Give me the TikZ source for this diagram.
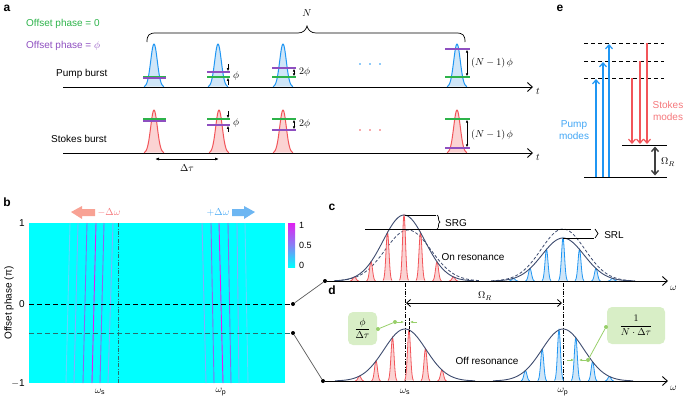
\documentclass[tikz,border=0pt]{standalone}
\usepackage{fontspec}
\setmainfont{Liberation Sans}
\usepackage{amsmath}
\usetikzlibrary{arrows.meta,decorations.pathreplacing}
\definecolor{pblue}{HTML}{1F96F3}
\definecolor{pbluefill}{HTML}{CFE6F8}
\definecolor{sred}{HTML}{F2555A}
\definecolor{sredfill}{HTML}{FBD3D3}
\definecolor{ogreen}{HTML}{2DB34A}
\definecolor{opurple}{HTML}{8E4FC0}
\definecolor{envc}{HTML}{3D4B6E}
\definecolor{hcyan}{HTML}{00FFFF}
\definecolor{boxgreen}{HTML}{D8EEC6}
\definecolor{lgreen}{HTML}{98CF6A}
\definecolor{salmon}{HTML}{F8A294}
\definecolor{lblue}{HTML}{6DB6F2}
\definecolor{hmag}{HTML}{E020F0}
\definecolor{hvio}{HTML}{8A6AF0}
\definecolor{hlav}{HTML}{7FB0FF}
\definecolor{hfaint}{HTML}{60D8FF}
\definecolor{teal}{HTML}{2B6E6E}
\newcommand\apulse[4]{\draw[#3, fill=#4, line width=1pt] plot[domain=-10:10, samples=41, smooth] ({#1+\x},{#2-43*exp(-(\x*\x)/(2*3.3*3.3))});}
\newcommand\atooth[5]{\draw[#4, fill=#5, line width=0.8pt] plot[domain=-4.5:4.5, samples=25, smooth] ({#1+\x},{#2-#3*exp(-(\x*\x)/(2*1.5*1.5))});}
\newcommand\aenv[6]{\draw[#5] plot[domain=-#6:#6, samples=71, smooth] ({#1+\x},{#2-#3*exp(-(\x*\x)/(2*#4*#4))});}
\begin{document}
\begin{tikzpicture}[x=1pt,y=-1pt,
  txt/.style={font=\fontsize{10}{11}\selectfont, inner sep=0pt},
  stxt/.style={font=\fontsize{9}{10}\selectfont, inner sep=0pt},
  plabel/.style={font=\fontsize{12}{13}\selectfont\bfseries, inner sep=0pt},
  axisarrow/.style={line width=0.9pt, -{Straight Barb[length=5pt,width=9pt]}},
  phline/.style={line width=1.3pt},
  smallarr/.style={line width=0.6pt, -{Latex[length=3pt,width=2.6pt]}},
  dblarr/.style={line width=0.6pt, {Latex[length=3pt,width=2.6pt]}-{Latex[length=3pt,width=2.6pt]}},
  envsolid/.style={envc, line width=0.9pt},
  envdash/.style={envc, line width=0.8pt, dash pattern=on 3pt off 2pt},
  dashdot/.style={line width=0.6pt, dash pattern=on 4pt off 1.5pt on 0.8pt off 1.5pt},
  gbox/.style={fill=boxgreen, rounded corners=5pt, inner sep=0pt},
  gline/.style={lgreen, line width=0.8pt},
  gdot/.style={circle, fill=lgreen, inner sep=0pt, minimum size=4pt},
  bdot/.style={circle, fill=black, inner sep=0pt, minimum size=4pt},
  garr/.style={lgreen, line width=0.7pt, -{Latex[length=3pt,width=2.6pt]}},
  earr/.style={line width=1.2pt, -{Straight Barb[length=4pt,width=7pt]}}
]
\useasboundingbox (0,0) rectangle (685,400);
% ---------------- Panel a ----------------
\node[plabel] (la) at (7,8) {a};
\node[txt, text=ogreen, anchor=west] (off0) at (26,24) {Offset phase = 0};
\node[txt, text=opurple, anchor=west] (offphi) at (26,46) {Offset phase = $\phi$};
\node[txt, anchor=west] (pumpb) at (56,74) {Pump burst};
\node[txt, anchor=west] (stokesb) at (51,139) {Stokes burst};
\coordinate (pa0) at (63,87); \coordinate (pa1) at (533,87);
\coordinate (sa0) at (63,153); \coordinate (sa1) at (533,153);
\draw[axisarrow] (pa0) -- (pa1);
\draw[axisarrow] (sa0) -- (sa1);
\node[txt, anchor=west] (tp) at (536,91) {$t$};
\node[txt, anchor=west] (ts) at (536,157) {$t$};
% brace N
\draw[line width=0.7pt] (147,42) .. controls (147,35) and (149,33) .. (156,33) -- (298,33) .. controls (303,33) and (306,30) .. (307,26) .. controls (308,30) and (311,33) .. (316,33) -- (456,33) .. controls (463,33) and (465,35) .. (465,42);
\node[txt] (nlab) at (307,13) {$N$};
% pulses
\foreach \cx in {154,218,283,457} {\apulse{\cx}{87}{pblue}{pbluefill}}
\foreach \cx in {154,219,283,457} {\apulse{\cx}{153}{sred}{sredfill}}
% pump markers
\draw[phline, opurple] (143,78) -- (166,78);
\draw[phline, ogreen] (143,76.5) -- (166,76.5);
\draw[phline, opurple] (207,72) -- (230,72);
\draw[phline, ogreen] (207,77) -- (230,77);
\draw[phline, opurple] (272,68) -- (296,68);
\draw[phline, ogreen] (272,77) -- (296,77);
\draw[phline, opurple] (445,49) -- (470,49);
\draw[phline, ogreen] (445,77) -- (470,77);
% stokes markers
\draw[phline, opurple] (143,121) -- (166,121);
\draw[phline, ogreen] (143,119) -- (166,119);
\draw[phline, ogreen] (207,119) -- (230,119);
\draw[phline, opurple] (207,125) -- (230,125);
\draw[phline, ogreen] (272,119) -- (296,119);
\draw[phline, opurple] (272,130) -- (296,130);
\draw[phline, ogreen] (445,119) -- (470,119);
\draw[phline, opurple] (445,148) -- (470,148);
% phase arrows
\coordinate (m1a) at (228,64); \coordinate (m1b) at (228,71.2);
\coordinate (m1c) at (228,85); \coordinate (m1d) at (228,77.8);
\draw[smallarr] (m1a) -- (m1b);
\draw[smallarr] (m1c) -- (m1d);
\node[txt, anchor=west] (phi1) at (233,76) {$\phi$};
\coordinate (m2a) at (228,111); \coordinate (m2b) at (228,118.2);
\coordinate (m2c) at (228,132); \coordinate (m2d) at (228,125.8);
\draw[smallarr] (m2a) -- (m2b);
\draw[smallarr] (m2c) -- (m2d);
\node[txt, anchor=west] (phi2) at (233,123) {$\phi$};
\coordinate (m3a) at (294,68.7); \coordinate (m3b) at (294,76.3);
\draw[dblarr] (m3a) -- (m3b);
\node[txt, anchor=west] (tphi1) at (299,72) {$2\phi$};
\coordinate (m4a) at (294,119.7); \coordinate (m4b) at (294,129.3);
\draw[dblarr] (m4a) -- (m4b);
\node[txt, anchor=west] (tphi2) at (299,124) {$2\phi$};
\coordinate (m5a) at (467,49.7); \coordinate (m5b) at (467,76.3);
\draw[dblarr] (m5a) -- (m5b);
\node[txt, anchor=west] (nphi1) at (471,63) {$(N-1)\,\phi$};
\coordinate (m6a) at (467,119.7); \coordinate (m6b) at (467,147.3);
\draw[dblarr] (m6a) -- (m6b);
\node[txt, anchor=west] (nphi2) at (471,135) {$(N-1)\,\phi$};
% dots
\foreach \dx in {360,370,380} {\fill[pblue] (\dx,64) circle (0.9);}
\foreach \dx in {360,370,380} {\fill[sred] (\dx,130) circle (0.9);}
% delta tau
\coordinate (dt0) at (155,159); \coordinate (dt1) at (219,159);
\draw[line width=0.7pt, {Latex[length=4pt,width=3pt]}-{Latex[length=4pt,width=3pt]}] (dt0) -- (dt1);
\node[txt] (dtl) at (187,168) {$\Delta\tau$};
% ---------------- Panel e ----------------
\node[plabel] (le) at (560,8) {e};
\foreach \ly in {43,61,78} {\draw[line width=0.8pt, dash pattern=on 4pt off 3pt] (584,\ly) -- (664,\ly);}
\coordinate (g0) at (584,177); \coordinate (g1) at (667,177);
\coordinate (v0) at (622,145); \coordinate (v1) at (667,145);
\draw[line width=0.9pt] (g0) -- (g1);
\draw[line width=0.9pt] (v0) -- (v1);
\draw[pblue, earr] (596,177) -- (596,79);
\draw[pblue, earr] (603,177) -- (603,62);
\draw[pblue, earr] (609,177) -- (609,44);
\draw[sred, earr] (632,78) -- (632,144);
\draw[sred, earr] (640,61) -- (640,144);
\draw[sred, earr] (647,43) -- (647,144);
\draw[line width=1.4pt, black!75, {Straight Barb[length=4pt,width=7pt]}-{Straight Barb[length=4pt,width=7pt]}] (655,146.5) -- (655,175.5);
\node[txt, anchor=west] (omr) at (661,162) {$\Omega_R$};
\node[txt, text=pblue!85, align=center] (pm) at (574,130) {Pump\\[1pt]modes};
\node[txt, text=sred!80, align=center] (sm) at (668,111) {Stokes\\[1pt]modes};
% ---------------- Panel b ----------------
\node[plabel] (lb) at (7,202) {b};
\fill[hcyan] (29,223) rectangle (285,383);
\foreach \xt/\xb/\cc in {70/66/hfaint, 78/74/hlav, 87/83/hvio, 96/92/hmag, 104/100/hvio, 113/108/hlav} {
  \draw[\cc, line width=0.9pt] (\xt,223) -- (\xb,383);}
\foreach \xt/\xb/\cc in {202/206/hlav, 211/214/hvio, 219/223/hmag, 228/231/hvio, 237/239/hlav, 245/248/hfaint} {
  \draw[\cc, line width=0.9pt] (\xt,223) -- (\xb,383);}
\draw[teal, dashdot, line width=0.8pt] (118,223) -- (118,383);
\coordinate (b0l) at (29,304);
\coordinate (b1l) at (29,333);
\node[bdot] (b0) at (293,304) {};
\node[bdot] (b1) at (293,333) {};
\draw[line width=0.7pt, dash pattern=on 5pt off 3pt] (b0l) -- (b0);
\draw[teal, line width=0.8pt, dash pattern=on 5pt off 3pt] (b1l) -- (b1);
\shade[top color=hmag, bottom color=hcyan, middle color=hvio!70!hlav] (288,223) rectangle (295,267);
\node[stxt, anchor=west] (cb1) at (299,225) {1};
\node[stxt, anchor=west] (cb2) at (299,245) {0.5};
\node[stxt, anchor=west] (cb3) at (299,265) {0};
\node[txt, anchor=east] (yt1) at (25,223) {1};
\node[txt, anchor=east] (yt0) at (25,304) {0};
\node[txt, anchor=east] (ytm) at (25,383) {$-$1};
\node[txt, rotate=90] (ylab) at (9,303) {Offset phase (π)};
\node[txt] (wsb) at (100,392) {$\omega_\mathrm{s}$};
\node[txt] (wpb) at (221,392) {$\omega_\mathrm{p}$};
\fill[salmon] (71,212) -- (82,206) -- (82,209) -- (95,209) -- (95,216) -- (82,216) -- (82,219) -- cycle;
\node[txt, text=sred!80] (mdw) at (109,212) {$-\Delta\omega$};
\node[txt, text=pblue!80] (pdw) at (218,212) {$+\Delta\omega$};
\fill[lblue] (255,212) -- (244,206) -- (244,209) -- (232,209) -- (232,216) -- (244,216) -- (244,219) -- cycle;
% ---------------- Panel c ----------------
\node[plabel] (lc) at (332,207) {c};
\node[bdot] (c0) at (325,281) {};
\coordinate (c1) at (668,281);
\draw[line width=0.7pt, gray!70!black] (b0) -- (c0);
\aenv{408}{281}{51}{23}{envdash}{72}
\aenv{563}{281}{52}{22}{envdash}{72}
\foreach \k in {-3,...,3} {
  \pgfmathsetmacro\toothx{404+16.5*\k}
  \pgfmathsetmacro\toothh{66*exp(-((\toothx-404)^2)/(2*21*21))}
  \atooth{\toothx}{281}{\toothh}{sred}{sredfill}
}
\foreach \k in {-3,...,3} {
  \pgfmathsetmacro\toothx{563+16.5*\k}
  \pgfmathsetmacro\toothh{43*exp(-((\toothx-563)^2)/(2*21*21))}
  \atooth{\toothx}{281}{\toothh}{pblue}{pbluefill}
}
\aenv{404}{281}{66}{21}{envsolid}{70}
\aenv{563}{281}{43}{21}{envsolid}{70}
\draw[axisarrow] (c0) -- (c1);
\node[txt, anchor=west] (wc) at (670,288) {$\omega$};
\coordinate (srg0) at (405,215); \coordinate (srg1) at (436,215);
\draw[line width=0.7pt] (srg0) -- (srg1);
\coordinate (lng0) at (365,229); \coordinate (lng1) at (591,229);
\draw[line width=0.7pt] (lng0) -- (lng1);
\draw[line width=0.7pt, decorate, decoration={brace, amplitude=3pt}] (437,215) -- (437,229);
\node[txt] (srg) at (456,223) {SRG};
\coordinate (srl0) at (563,238); \coordinate (srl1) at (594,238);
\draw[line width=0.7pt] (srl0) -- (srl1);
\draw[line width=0.7pt, decorate, decoration={brace, amplitude=3pt}] (595,229) -- (595,238);
\node[txt] (srl) at (614,235) {SRL};
\node[txt] (onres) at (473,257) {On resonance};
% ---------------- Panel d ----------------
\node[plabel] (ld) at (332,290) {d};
\node[bdot] (d0) at (323,381) {};
\coordinate (d1) at (668,381);
\draw[line width=0.7pt, gray!70!black] (b1) -- (d0);
\draw[dashdot] (405,283) -- (405,381);
\draw[dashdot] (563,283) -- (563,381);
\foreach \k in {-3,...,2} {
  \pgfmathsetmacro\toothx{409+16.5*\k}
  \pgfmathsetmacro\toothh{52*exp(-((\toothx-405)^2)/(2*21*21))}
  \atooth{\toothx}{381}{\toothh}{sred}{sredfill}
}
\foreach \k in {-2,...,3} {
  \pgfmathsetmacro\toothx{559+16.8*\k}
  \pgfmathsetmacro\toothh{52*exp(-((\toothx-563)^2)/(2*21*21))}
  \atooth{\toothx}{381}{\toothh}{pblue}{pbluefill}
}
\aenv{405}{381}{52}{21}{envsolid}{70}
\aenv{563}{381}{52}{21}{envsolid}{70}
\draw[axisarrow] (d0) -- (d1);
\node[txt, anchor=west] (wd) at (670,388) {$\omega$};
\node[txt] (wsd) at (405,392) {$\omega_\mathrm{s}$};
\node[txt] (wpd) at (563,392) {$\omega_\mathrm{p}$};
\coordinate (om0) at (406,303); \coordinate (om1) at (562,303);
\draw[line width=0.8pt, {Straight Barb[length=4pt,width=7pt]}-{Straight Barb[length=4pt,width=7pt]}] (om0) -- (om1);
\node[txt] (omd) at (485,296) {$\Omega_R$};
\draw[line width=0.7pt, dash pattern=on 2.5pt off 1.5pt] (409,318) -- (409,332);
\node[txt] (offres) at (487,361) {Off resonance};
% green annotation boxes
\node[gbox, minimum width=29pt, minimum height=33pt] (gb1) at (362.5,328.5) {$\dfrac{\phi}{\Delta\tau}$};
\node[gdot] (gd1) at (378,329) {};
\node[gdot] (gd2) at (395,322) {};
\draw[gline] (gd1) -- (gd2);
\coordinate (ga1) at (404,322); \coordinate (ga2) at (417,322); \coordinate (ga3) at (410,322);
\draw[garr] (gd2) -- (ga1);
\draw[garr] (ga2) -- (ga3);
\node[gbox, minimum width=58pt, minimum height=37pt] (gb2) at (636,325.5) {$\dfrac{1}{N\cdot\Delta\tau}$};
\node[gdot] (gd3) at (606,327) {};
\node[gdot] (gd4) at (588,360) {};
\draw[gline] (gd3) -- (gd4);
\coordinate (gb3) at (567,360); \coordinate (gb4) at (574,360); \coordinate (gb5) at (579,360);
\draw[garr] (gb3) -- (gb4);
\draw[garr] (gd4) -- (gb5);
\end{tikzpicture}
\end{document}
